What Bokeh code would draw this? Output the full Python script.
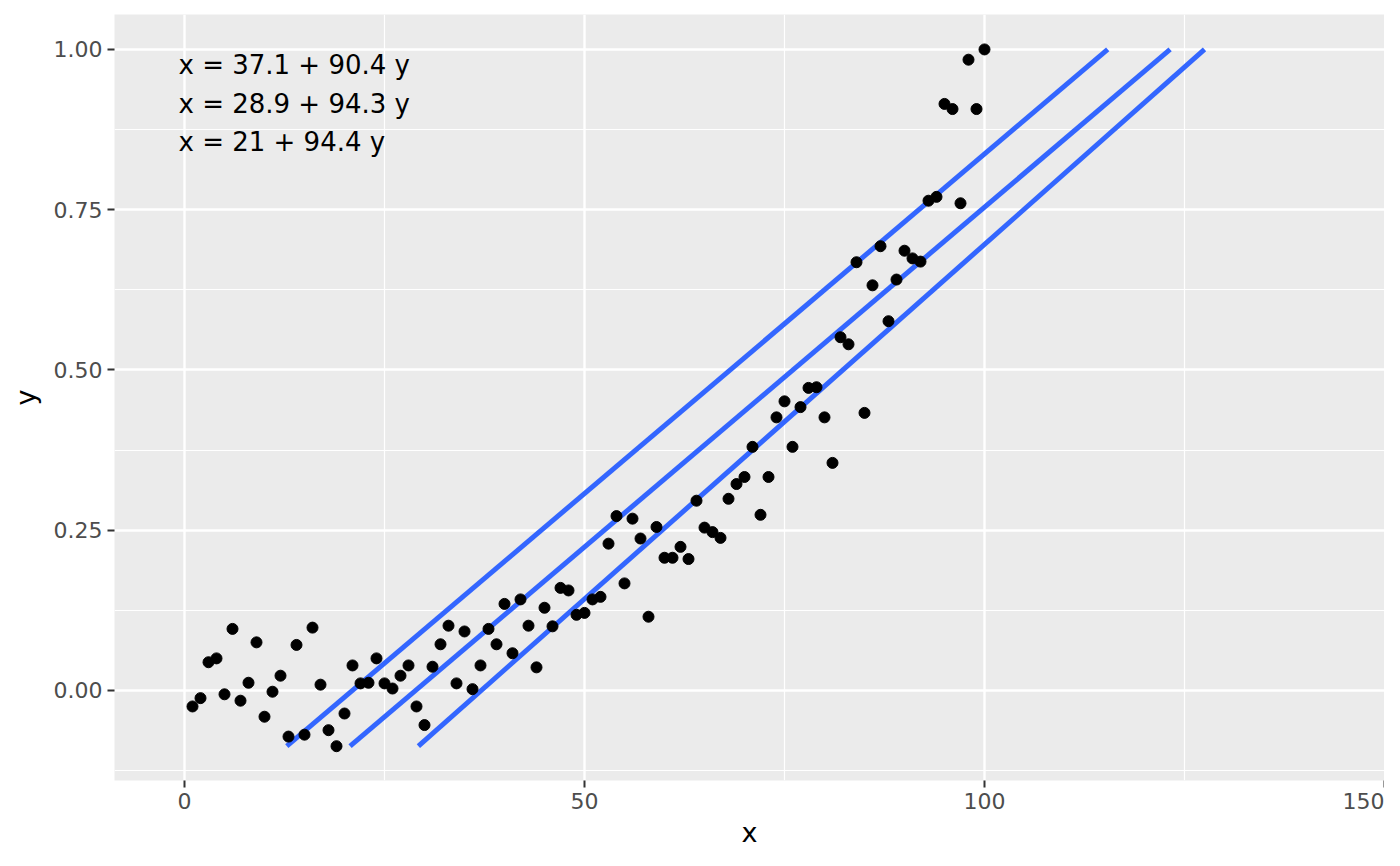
from bokeh.plotting import figure
from bokeh.models import FixedTicker, NumeralTickFormatter, Range1d, ColumnDataSource
from bokeh.core.properties import value
from bokeh.embed import file_html
from bokeh.resources import INLINE

# ---- data ----
xs = list(range(1, 101))
ys = [-0.025, -0.012, 0.044, 0.050, -0.006, 0.096, -0.016, 0.012, 0.075, -0.041,
      -0.002, 0.023, -0.072, 0.071, -0.069, 0.098, 0.009, -0.062, -0.087, -0.036,
      0.039, 0.011, 0.012, 0.050, 0.011, 0.003, 0.023, 0.039, -0.025, -0.054,
      0.037, 0.072, 0.101, 0.011, 0.092, 0.002, 0.039, 0.096, 0.072, 0.135,
      0.058, 0.142, 0.101, 0.036, 0.129, 0.100, 0.160, 0.156, 0.118, 0.121,
      0.142, 0.146, 0.229, 0.272, 0.167, 0.268, 0.237, 0.115, 0.255, 0.207,
      0.207, 0.224, 0.205, 0.296, 0.254, 0.247, 0.238, 0.299, 0.322, 0.333,
      0.380, 0.274, 0.333, 0.426, 0.451, 0.380, 0.442, 0.472, 0.473, 0.426,
      0.355, 0.551, 0.540, 0.668, 0.433, 0.632, 0.693, 0.576, 0.641, 0.686,
      0.674, 0.669, 0.764, 0.770, 0.915, 0.907, 0.760, 0.984, 0.907, 1.000]

intercepts = [37.1, 28.9, 21]
slopes = [90.4, 94.3, 94.4]

x_ticks = [0, 50, 100, 150]
x_minor = [25, 75, 125]
y_ticks = [0.0, 0.25, 0.5, 0.75, 1.0]
y_minor = [-0.125, 0.125, 0.375, 0.625, 0.875]

FONT = "DejaVu Sans"

p = figure(width=1384, height=850, output_backend="svg", toolbar_location=None,
           x_range=Range1d(-8.75, 150.0), y_range=Range1d(-0.1405, 1.0545),
           min_border_left=114, min_border_right=0, min_border_top=14, min_border_bottom=68)
p.background_fill_color = "#EBEBEB"
p.border_fill_color = "white"
p.outline_line_color = None

# grids
for ax_grid in (p.xgrid[0], p.ygrid[0]):
    ax_grid.grid_line_color = "white"
    ax_grid.grid_line_width = 2.4
    ax_grid.minor_grid_line_color = "white"
    ax_grid.minor_grid_line_width = 1.2

p.xaxis.ticker = FixedTicker(ticks=x_ticks, minor_ticks=x_minor)
p.yaxis.ticker = FixedTicker(ticks=y_ticks, minor_ticks=y_minor)
p.yaxis.formatter = NumeralTickFormatter(format="0.00")

for ax in (p.xaxis[0], p.yaxis[0]):
    ax.axis_line_color = None
    ax.major_tick_line_color = "#333333"
    ax.major_tick_line_width = 2
    ax.major_tick_out = 7
    ax.major_tick_in = 0
    ax.minor_tick_line_color = None
    ax.major_label_text_font = FONT
    ax.major_label_text_font_size = "22px"
    ax.major_label_text_color = "#4D4D4D"
    ax.major_label_standoff = 5
    ax.axis_label_text_font = FONT
    ax.axis_label_text_font_size = "27px"
    ax.axis_label_text_font_style = "normal"
    ax.axis_label_text_color = "black"

p.xaxis.axis_label = "x"
p.yaxis.axis_label = "y"
p.xaxis.axis_label_standoff = 5
p.yaxis.axis_label_standoff = 10

# quantile lines (x = a + b*y) across the y-range of the data
ymin, ymax = min(ys), max(ys)
for a, b in zip(intercepts, slopes):
    p.line([a + b * ymin, a + b * ymax], [ymin, ymax], line_color="#3366FF", line_width=5)

p.scatter(xs, ys, size=11, color="black", line_color="black")

labels = [f"x = {format(a, 'g')} + {format(b, 'g')} y" for a, b in zip(intercepts, slopes)]
src = ColumnDataSource(dict(x=[-0.75] * 3, y=[0.975, 0.915, 0.855], t=labels))
p.text(x="x", y="y", text="t", source=src, text_font=value(FONT), text_font_size="26px",
       text_color="black", text_baseline="middle", text_align="left")

open("out.html", "w").write(file_html(p, INLINE))
